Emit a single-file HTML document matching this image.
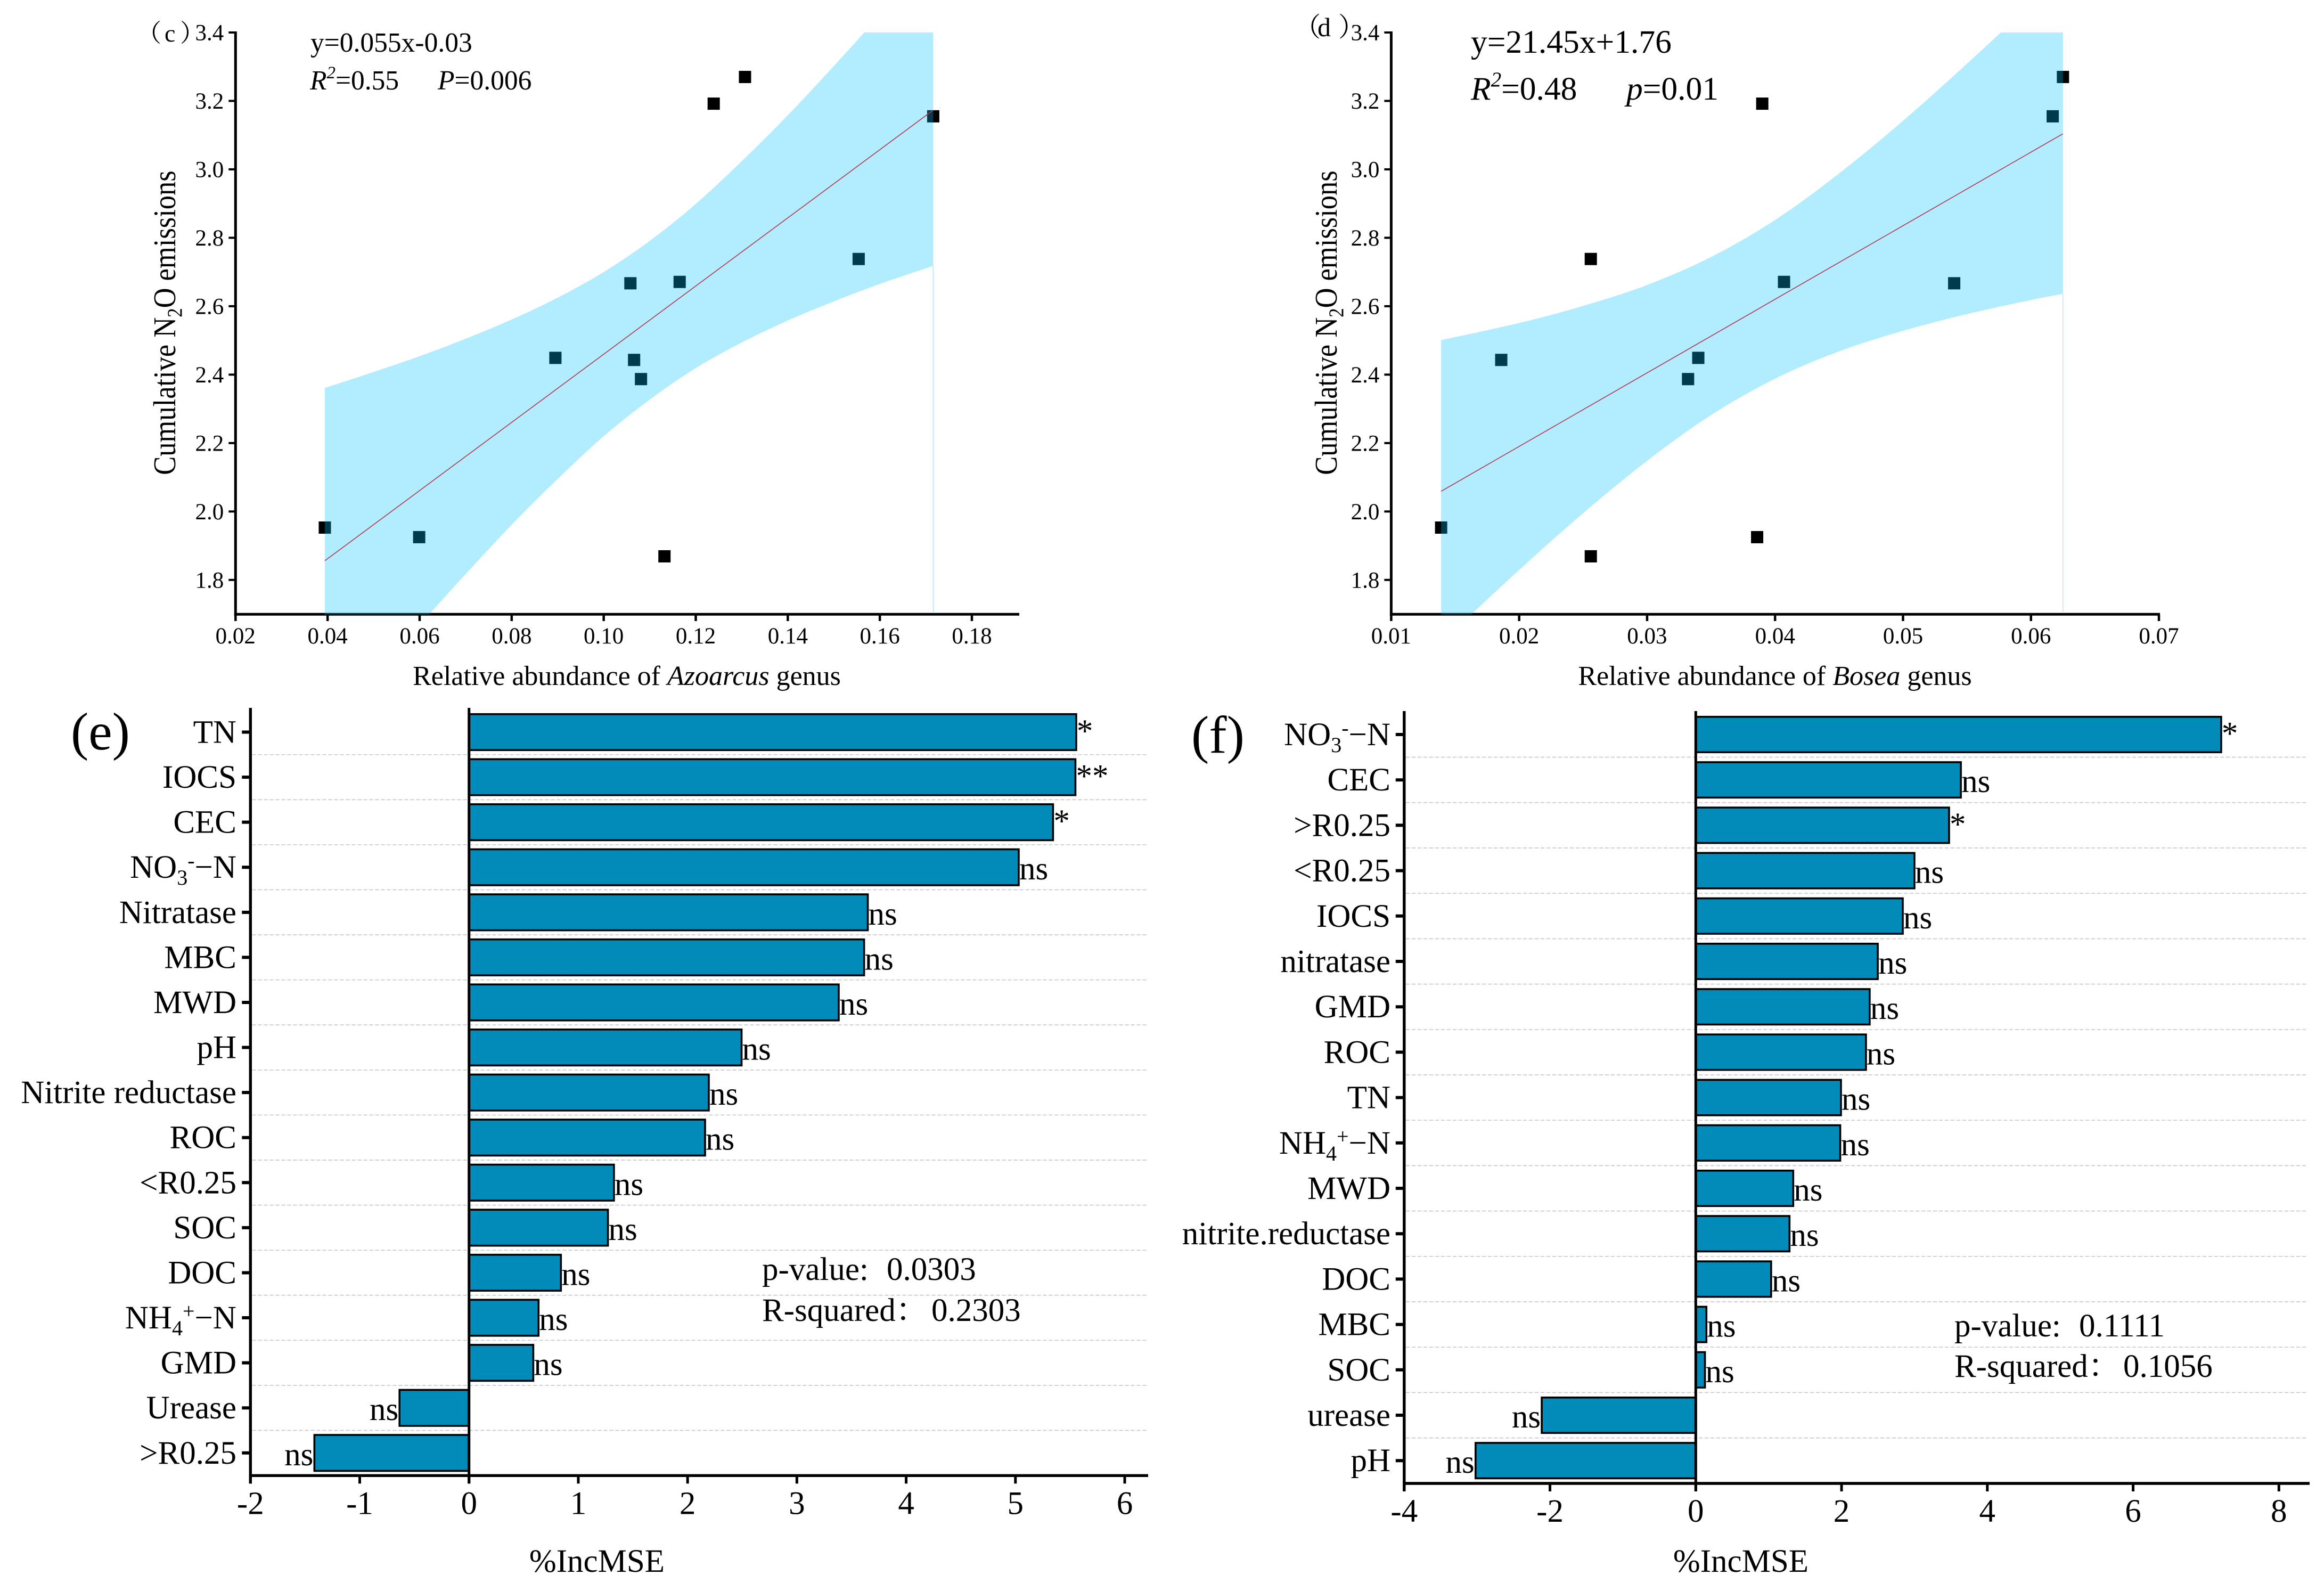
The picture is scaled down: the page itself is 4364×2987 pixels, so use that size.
<!DOCTYPE html>
<html lang="en">
<head>
<meta charset="utf-8">
<title>N2O emissions regressions and random forest importance</title>
<style>
html,body{margin:0;padding:0;background:#fff;}
svg{display:block;}
text{font-family:"Liberation Serif","Noto Serif CJK SC",serif;fill:#000;}
.tick-s{font-size:43px;}
.tick-l{font-size:61px;}
.cat{font-size:61px;}
.title-s{font-size:52px;}
.title-l{font-size:61px;}
.mark{font-size:61px;}
.it{font-style:italic;}
</style>
</head>
<body>
<svg id="figure" xmlns="http://www.w3.org/2000/svg" width="4364" height="2987" viewBox="0 0 4364 2987">
  <rect x="0" y="0" width="4364" height="2987" fill="#fff"/>
  <defs>
    <clipPath id="clip-c"><rect x="442" y="61" width="1470" height="1092.5"/></clipPath>
    <clipPath id="clip-d"><rect x="2612" y="61" width="1444" height="1092.5"/></clipPath>
  </defs>

  <g id="panel-c">
    <text y="78" font-size="46"><tspan x="257">（</tspan><tspan x="309">c</tspan><tspan x="338">）</tspan></text>
    <text x="583" y="97" font-size="51.5">y=0.055x-0.03</text>
    <text y="168" font-size="51.5"><tspan x="582" class="it">R</tspan><tspan font-size="33" class="it" dy="-21">2</tspan><tspan dy="21">=0.55</tspan><tspan x="822" class="it">P</tspan><tspan>=0.006</tspan></text>
    <text class="title-s" x="1177" y="1286" text-anchor="middle">Relative abundance of <tspan class="it">Azoarcus</tspan> genus</text>
    <text font-size="59" text-anchor="middle" transform="translate(329,606) rotate(-90) scale(0.89,1)">Cumulative N<tspan font-size="39" dy="12">2</tspan><tspan dy="-12">O emissions</tspan></text>
  </g>

  <g id="panel-d">
    <text y="68" font-size="50"><tspan x="2430">（</tspan><tspan x="2474">d</tspan><tspan x="2513">）</tspan></text>
    <text x="2762" y="99" font-size="61.5">y=21.45x+1.76</text>
    <text y="187" font-size="61.5"><tspan x="2762" class="it">R</tspan><tspan font-size="39" class="it" dy="-25">2</tspan><tspan dy="25">=0.48</tspan><tspan x="3054" class="it">p</tspan><tspan>=0.01</tspan></text>
    <text class="title-s" x="3333" y="1286" text-anchor="middle">Relative abundance of <tspan class="it">Bosea</tspan> genus</text>
    <text font-size="59" text-anchor="middle" transform="translate(2510,606) rotate(-90) scale(0.89,1)">Cumulative N<tspan font-size="39" dy="12">2</tspan><tspan dy="-12">O emissions</tspan></text>
  </g>

  <g id="panel-e">
    <text x="133" y="1407" font-size="100">(e)</text>
    <text class="title-l" x="1121" y="2951" text-anchor="middle">%IncMSE</text>
    <text class="title-l" y="2403"><tspan x="1431">p-value:</tspan><tspan x="1665">0.0303</tspan></text>
    <text class="title-l" y="2480"><tspan x="1431">R-squared：</tspan><tspan x="1749">0.2303</tspan></text>
  </g>

  <g id="panel-f">
    <text x="2237" y="1413" font-size="100">(f)</text>
    <text class="title-l" x="3269" y="2951" text-anchor="middle">%IncMSE</text>
    <text class="title-l" y="2509"><tspan x="3670">p-value:</tspan><tspan x="3904">0.1111</tspan></text>
    <text class="title-l" y="2585"><tspan x="3670">R-squared：</tspan><tspan x="3987">0.1056</tspan></text>
  </g>
</svg>

<script>
// Panel (c) data
const scatterCx = [0.0394,0.0599,0.0895,0.1058,0.1066,0.1081,0.1132,0.1165,0.1239,0.1307,0.1554,0.1716];
const scatterCy = [1.953,1.925,2.449,2.667,2.443,2.387,1.869,2.671,3.192,3.270,2.738,3.155];
const fitCx = [0.0394,0.1716];
const fitCy = [1.856,3.173];
const bandCx = [0.0394,0.05,0.06,0.07,0.08,0.09,0.10,0.11,0.12,0.13,0.14,0.15,0.16,0.1716];
const bandCupper = [2.361,2.408,2.454,2.505,2.561,2.625,2.700,2.791,2.899,3.024,3.158,3.302,3.451,3.628];
const bandClower = [1.351,1.516,1.668,1.817,1.961,2.095,2.220,2.327,2.419,2.494,2.558,2.614,2.665,2.718];
const ticksCx = ['0.02','0.04','0.06','0.08','0.10','0.12','0.14','0.16','0.18'];
const ticksY = ['1.8','2.0','2.2','2.4','2.6','2.8','3.0','3.2','3.4'];

// Panel (d) data
const scatterDx = [0.0139,0.0186,0.0256,0.0256,0.0332,0.0340,0.0386,0.0390,0.0407,0.0540,0.0617,0.0625];
const scatterDy = [1.953,2.443,2.738,1.869,2.387,2.449,1.925,3.192,2.671,2.667,3.155,3.270];
const fitDx = [0.0139,0.0625];
const fitDy = [2.059,3.104];
const bandDx = [0.0139,0.02,0.025,0.03,0.035,0.04,0.045,0.05,0.055,0.06,0.0625];
const bandDupper = [2.501,2.551,2.601,2.662,2.744,2.852,2.988,3.142,3.309,3.482,3.572];
const bandDlower = [1.617,1.829,1.995,2.148,2.282,2.388,2.468,2.528,2.577,2.618,2.636];
const ticksDx = ['0.01','0.02','0.03','0.04','0.05','0.06','0.07'];

// Panel (e) data
const categoriesE = ['TN','IOCS','CEC','NO3-−N','Nitratase','MBC','MWD','pH','Nitrite reductase','ROC','<R0.25','SOC','DOC','NH4+−N','GMD','Urease','>R0.25'];
const valuesE = [5.556,5.549,5.344,5.03,3.649,3.615,3.383,2.494,2.194,2.16,1.326,1.271,0.841,0.636,0.588,-0.636,-1.415];
const marksE = ['*','**','*','ns','ns','ns','ns','ns','ns','ns','ns','ns','ns','ns','ns','ns','ns'];
const ticksEx = ['-2','-1','0','1','2','3','4','5','6'];

// Panel (f) data
const categoriesF = ['NO3-−N','CEC','>R0.25','<R0.25','IOCS','nitratase','GMD','ROC','TN','NH4+−N','MWD','nitrite.reductase','DOC','MBC','SOC','urease','pH'];
const valuesF = [7.208,3.637,3.475,3.0,2.84,2.497,2.386,2.335,1.992,1.982,1.337,1.286,1.034,0.146,0.126,-2.113,-3.021];
const marksF = ['*','ns','*','ns','ns','ns','ns','ns','ns','ns','ns','ns','ns','ns','ns','ns','ns'];
const ticksFx = ['-4','-2','0','2','4','6','8'];

const NS = 'http://www.w3.org/2000/svg';

function make(parent, tag, attrs) {
  const el = document.createElementNS(NS, tag);
  for (const k in attrs) el.setAttribute(k, attrs[k]);
  parent.appendChild(el);
  return el;
}

function linearScale(d0, d1, r0, r1) {
  return function (v) { return r0 + (v - d0) / (d1 - d0) * (r1 - r0); };
}

function smoothPath(pts, move) {
  let d = (move ? 'M' : 'L') + pts[0][0].toFixed(1) + ' ' + pts[0][1].toFixed(1);
  for (let i = 0; i < pts.length - 1; i++) {
    const p0 = pts[Math.max(i - 1, 0)], p1 = pts[i], p2 = pts[i + 1], p3 = pts[Math.min(i + 2, pts.length - 1)];
    const c1x = p1[0] + (p2[0] - p0[0]) / 6, c1y = p1[1] + (p2[1] - p0[1]) / 6;
    const c2x = p2[0] - (p3[0] - p1[0]) / 6, c2y = p2[1] - (p3[1] - p1[1]) / 6;
    d += 'C' + c1x.toFixed(1) + ' ' + c1y.toFixed(1) + ' ' + c2x.toFixed(1) + ' ' + c2y.toFixed(1) + ' ' + p2[0].toFixed(1) + ' ' + p2[1].toFixed(1);
  }
  return d;
}

function drawScatter(panelId, key, cfg) {
  const g = document.getElementById(panelId);
  const x = linearScale(cfg.xDomain[0], cfg.xDomain[1], cfg.xRange[0], cfg.xRange[1]);
  const y = linearScale(1.7, 3.4, 1153, 61);

  // points (below the translucent band)
  cfg.px.forEach(function (v, i) {
    const pt = make(g, 'rect', { x: x(v) - 11.5, y: y(cfg.py[i]) - 11.5, width: 23, height: 23, fill: '#000' });
    
    
  });

  // axes
  const yAxis = make(g, 'line', { x1: cfg.xRange[0], x2: cfg.xRange[0], y1: 59, y2: 1156, stroke: '#000', 'stroke-width': 5 });
  
  
  const xAxis = make(g, 'line', { x1: cfg.xRange[0] - 2.5, x2: cfg.xEnd, y1: 1153.3, y2: 1153.3, stroke: '#000', 'stroke-width': 5 });
  
  

  cfg.xTicks.forEach(function (t) {
    const px = x(Number(t));
    const tick = make(g, 'line', { x1: px, x2: px, y1: 1153, y2: 1166, stroke: '#000', 'stroke-width': 4.5 });
    
    
    const label = make(g, 'text', { x: px, y: 1208, 'text-anchor': 'middle', class: 'tick-s' });
    label.textContent = t;
    
    
  });
  ticksY.forEach(function (t) {
    const py = y(Number(t));
    const tick = make(g, 'line', { x1: cfg.xRange[0] - 13, x2: cfg.xRange[0], y1: py, y2: py, stroke: '#000', 'stroke-width': 4 });
    
    
    const label = make(g, 'text', { x: cfg.xRange[0] - 22, y: py + 14.5, 'text-anchor': 'end', class: 'tick-s' });
    label.textContent = t;
    
    
  });

  // confidence band
  const up = cfg.bx.map(function (v, i) { return [x(v), y(cfg.upper[i])]; });
  const lo = cfg.bx.map(function (v, i) { return [x(v), y(cfg.lower[i])]; }).reverse();
  const band = make(g, 'path', {
    d: smoothPath(up, true) + smoothPath(lo, false) + 'Z',
    fill: 'rgb(0,197,255)', 'fill-opacity': 0.3, 'clip-path': 'url(#clip-' + key + ')'
  });
  
  

  const lastX = x(cfg.bx[cfg.bx.length - 1]);
  const lastLow = y(cfg.lower[cfg.lower.length - 1]);
  const edge = make(g, 'line', { x1: lastX, x2: lastX, y1: lastLow, y2: 1151, stroke: cfg.edgeColor, 'stroke-width': 1.5 });
  
  

  // fit line
  const fit = make(g, 'line', {
    x1: x(cfg.fx[0]), y1: y(cfg.fy[0]), x2: x(cfg.fx[1]), y2: y(cfg.fy[1]),
    stroke: '#b5374e', 'stroke-width': 1.6
  });
  
  
}

function writeCategory(label, text) {
  const m = text.match(/^(NO|NH)(\d)([-+])(−N)$/);
  if (!m) { label.textContent = text; return; }
  label.appendChild(document.createTextNode(m[1]));
  const sub = make(label, 'tspan', { 'font-size': 40, dy: 13 });
  sub.textContent = m[2];
  const sup = make(label, 'tspan', { 'font-size': 40, dy: -32 });
  sup.textContent = m[3];
  const rest = make(label, 'tspan', { dy: 19 });
  rest.textContent = m[4];
}

function drawBars(panelId, key, cfg) {
  const g = document.getElementById(panelId);
  const x = linearScale(cfg.xDomain[0], cfg.xDomain[1], cfg.xRange[0], cfg.xRange[1]);
  const center = function (i) { return cfg.firstCenter + i * cfg.step; };
  const zero = x(0);

  // grid lines between bars
  cfg.cats.slice(0, -1).forEach(function (c, i) {
    const py = center(i) + cfg.step / 2;
    const grid = make(g, 'line', {
      x1: cfg.xRange[0] + 3, x2: cfg.gridEnd, y1: py, y2: py,
      stroke: '#cacaca', 'stroke-width': 1.7, 'stroke-dasharray': '7.4 3.6'
    });
    
    
  });

  // bars, significance marks, category labels
  cfg.cats.forEach(function (c, i) {
    const v = cfg.vals[i];
    const cy = center(i);
    const left = Math.min(zero, x(v)), width = Math.abs(x(v) - zero);
    const bar = make(g, 'rect', {
      x: left, y: cy - cfg.barH / 2, width: width, height: cfg.barH,
      fill: '#018bb8', stroke: '#000', 'stroke-width': 3.6
    });
    
    

    const isNeg = v < 0;
    const mark = make(g, 'text', {
      x: isNeg ? x(v) - 2 : x(v) + 1, y: cy + (cfg.marks[i] === 'ns' ? 23 : 18),
      'text-anchor': isNeg ? 'end' : 'start', class: 'mark'
    });
    mark.textContent = cfg.marks[i];
    
    

    const tick = make(g, 'line', { x1: cfg.xRange[0] - 16, x2: cfg.xRange[0], y1: cy, y2: cy, stroke: '#000', 'stroke-width': 6 });
    
    

    const label = make(g, 'text', { x: cfg.labelRight, y: cy + 20, 'text-anchor': 'end', class: 'cat' });
    writeCategory(label, c);
    
    
  });

  // axes
  const yAxis = make(g, 'line', { x1: cfg.xRange[0], x2: cfg.xRange[0], y1: cfg.top, y2: cfg.axisY + 15, stroke: '#000', 'stroke-width': 5.4 });
  
  
  const zeroLine = make(g, 'line', { x1: zero, x2: zero, y1: cfg.top, y2: cfg.axisY + 15, stroke: '#000', 'stroke-width': 5 });
  
  
  const xAxis = make(g, 'line', { x1: cfg.xRange[0] - 2.5, x2: cfg.axisEnd, y1: cfg.axisY, y2: cfg.axisY, stroke: '#000', 'stroke-width': 5.4 });
  
  

  cfg.ticks.forEach(function (t) {
    const px = x(Number(t));
    const tick = make(g, 'line', { x1: px, x2: px, y1: cfg.axisY, y2: cfg.axisY + 15, stroke: '#000', 'stroke-width': 5 });
    
    
    const label = make(g, 'text', { x: px, y: cfg.axisY + 72, 'text-anchor': 'middle', class: 'tick-l' });
    label.textContent = t;
    
    
  });
}

drawScatter('panel-c', 'c', {
  xDomain: [0.02, 0.18], xRange: [442.3, 1825], xEnd: 1914, xTicks: ticksCx,
  px: scatterCx, py: scatterCy, fx: fitCx, fy: fitCy,
  bx: bandCx, upper: bandCupper, lower: bandClower, edgeColor: '#aee8fb'
});
drawScatter('panel-d', 'd', {
  xDomain: [0.01, 0.07], xRange: [2612.4, 4054], xEnd: 4056, xTicks: ticksDx,
  px: scatterDx, py: scatterDy, fx: fitDx, fy: fitDy,
  bx: bandDx, upper: bandDupper, lower: bandDlower, edgeColor: '#c4e9f1'
});
drawBars('panel-e', 'e', {
  xDomain: [-2, 6], xRange: [470.3, 2112], axisEnd: 2156, gridEnd: 2154, axisY: 2770.3,
  top: 1329, firstCenter: 1374.5, step: 84.58, barH: 67.5, labelRight: 444,
  cats: categoriesE, vals: valuesE, marks: marksE, ticks: ticksEx
});
drawBars('panel-f', 'f', {
  xDomain: [-4, 8], xRange: [2636.8, 4279.3], axisEnd: 4337, gridEnd: 4334, axisY: 2785,
  top: 1335, firstCenter: 1379, step: 85.2, barH: 66.5, labelRight: 2611,
  cats: categoriesF, vals: valuesF, marks: marksF, ticks: ticksFx
});
</script>
</body>
</html>
